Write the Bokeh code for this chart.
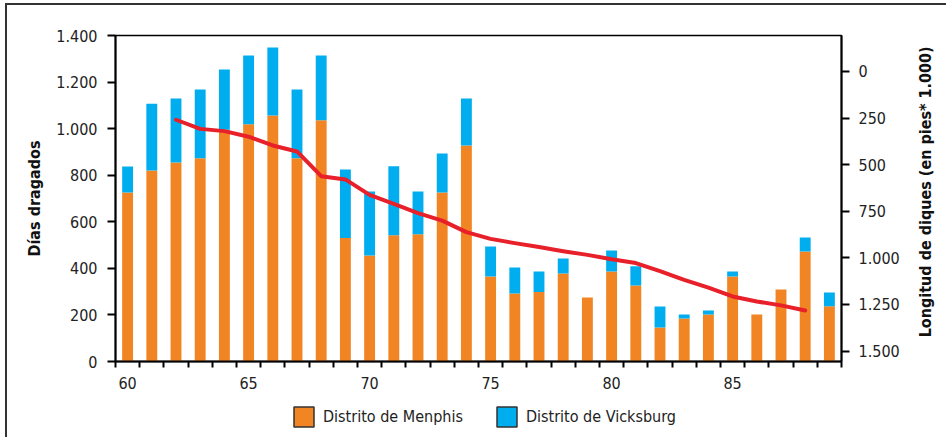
import math
from bokeh.plotting import figure
from bokeh.layouts import column, row
from bokeh.models import (ColumnDataSource, Range1d, LinearAxis, FixedTicker, Legend,
                          LegendItem)
from bokeh.core.properties import value
from bokeh.embed import file_html
from bokeh.resources import INLINE

# ---- data ----
years = list(range(60, 90))
menphis = [726, 820, 855, 873, 995, 1019, 1056, 873, 1036, 530,
           455, 542, 547, 726, 928, 365, 292, 298, 378, 275,
           386, 326, 146, 185, 202, 365, 202, 309, 472, 237]
vicksburg = [111, 287, 274, 295, 259, 295, 292, 295, 278, 295,
             275, 297, 183, 167, 201, 129, 112, 88, 64, 0,
             91, 83, 90, 17, 17, 21, 0, 0, 60, 59]
line_years = list(range(62, 89))
longitud = [259, 308, 320, 350, 397, 429, 562, 579, 662, 710,
            760, 800, 862, 898, 921, 942, 964, 984, 1007, 1028,
            1071, 1118, 1160, 1207, 1234, 1255, 1282]
left_ticks = [0, 200, 400, 600, 800, 1000, 1200, 1400]
left_labels = ["0", "200", "400", "600", "800", "1.000", "1.200", "1.400"]
right_ticks = [0, 250, 500, 750, 1000, 1250, 1500]
right_labels = ["0", "250", "500", "750", "1.000", "1.250", "1.500"]
x_label_ticks = [60, 65, 70, 75, 80, 85]
series_names = ["Distrito de Menphis", "Distrito de Vicksburg"]
left_title = "Días dragados"
right_title = "Longitud de diques (en pies* 1.000)"

ORANGE = "#f28523"
BLUE = "#00aeef"
RED = "#e8202a"
FONT = "'DejaVu Sans Condensed', Roboto, sans-serif"
FS = "16px"

MAIN_W, MAIN_H = 904, 392

src = ColumnDataSource(dict(year=years, menphis=menphis, vicksburg=vicksburg))

p = figure(frame_width=726, frame_height=326,
           min_border_left=108, min_border_right=MAIN_W - 108 - 726,
           min_border_top=30, min_border_bottom=MAIN_H - 30 - 326,
           x_range=Range1d(59.5, 89.5), y_range=Range1d(0, 1400),
           output_backend="svg", toolbar_location=None)

p.xgrid.visible = False
p.ygrid.visible = False
p.outline_line_color = "black"
p.outline_line_width = 1.5
p.background_fill_color = "white"

p.extra_y_ranges = {"right": Range1d(start=1556, end=-193)}

p.vbar_stack(["menphis", "vicksburg"], x="year", width=0.45,
             color=[ORANGE, BLUE], line_color=None, source=src)

p.line(line_years, longitud, y_range_name="right", color=RED, line_width=4,
       line_join="round", line_cap="round")


def style_axis(ax):
    ax.axis_line_color = "black"
    ax.axis_line_width = 2
    ax.major_tick_line_color = "black"
    ax.major_tick_line_width = 2
    ax.minor_tick_line_color = "black"
    ax.minor_tick_line_width = 2
    ax.major_label_text_font = FONT
    ax.major_label_text_font_size = FS
    ax.major_label_text_color = "#222222"
    ax.axis_label_text_font = FONT
    ax.axis_label_text_font_size = FS
    ax.axis_label_text_font_style = "bold"
    ax.axis_label_text_color = "#111111"


xa = p.xaxis[0]
style_axis(xa)
xa.ticker = FixedTicker(ticks=x_label_ticks, minor_ticks=[y + 0.5 for y in range(59, 90)])
xa.major_tick_out = 0
xa.major_tick_in = 0
xa.minor_tick_out = 6
xa.minor_tick_in = 0
xa.major_label_standoff = 9

ya = p.yaxis[0]
style_axis(ya)
ya.ticker = FixedTicker(ticks=left_ticks)
ya.major_label_overrides = {t: l for t, l in zip(left_ticks, left_labels)}
ya.major_tick_out = 8
ya.major_tick_in = 0
ya.minor_tick_line_color = None
ya.major_label_standoff = 10
ya.axis_label = left_title
ya.axis_label_standoff = 9

ra = LinearAxis(y_range_name="right")
style_axis(ra)
ra.ticker = FixedTicker(ticks=right_ticks)
ra.major_label_overrides = {t: l for t, l in zip(right_ticks, right_labels)}
ra.major_tick_out = 8
ra.major_tick_in = 0
ra.minor_tick_line_color = None
ra.major_label_standoff = 9
p.add_layout(ra, "right")

# ---- right title panel (reads bottom-to-top) ----
TW = 35
t = figure(width=TW, height=MAIN_H, x_range=Range1d(0, TW), y_range=Range1d(0, MAIN_H),
           x_axis_type=None, y_axis_type=None, min_border=0,
           output_backend="svg", toolbar_location=None)
t.outline_line_color = None
t.text(x=[14], y=[MAIN_H - 188], text=[right_title], angle=math.pi / 2,
       text_align="center", text_baseline="middle",
       text_font=value(FONT), text_font_size=FS, text_font_style="bold",
       text_color="#111111")

# ---- legend panel ----
LH = 40
lg = figure(width=MAIN_W + TW, height=LH, x_range=Range1d(0, 1), y_range=Range1d(0, 1),
            x_axis_type=None, y_axis_type=None, min_border=0,
            output_backend="svg", toolbar_location=None)
lg.outline_line_color = None
# legend-only swatch renderers (their single point lies outside the visible range)
d1 = lg.rect(x=[-5], y=[-5], width=1, height=1, fill_color=ORANGE,
             line_color="#333333", line_width=1.5)
d2 = lg.rect(x=[-5], y=[-5], width=1, height=1, fill_color=BLUE,
             line_color="#333333", line_width=1.5)
legend = Legend(items=[LegendItem(label=series_names[0], renderers=[d1]),
                       LegendItem(label=series_names[1], renderers=[d2])],
                orientation="horizontal", location=(284, 8),
                glyph_width=25, glyph_height=25, label_standoff=7, spacing=31,
                label_text_font=FONT, label_text_font_size=FS,
                label_text_color="#222222",
                border_line_color=None, background_fill_alpha=0,
                margin=0, padding=0)
lg.add_layout(legend)

layout = column(row(p, t, spacing=0), lg, spacing=0)
layout.styles = {"border-left": "2px solid #333", "border-top": "2px solid #333",
                 "margin-left": "5px", "margin-top": "3px"}

open("out.html", "w").write(file_html(layout, INLINE))
